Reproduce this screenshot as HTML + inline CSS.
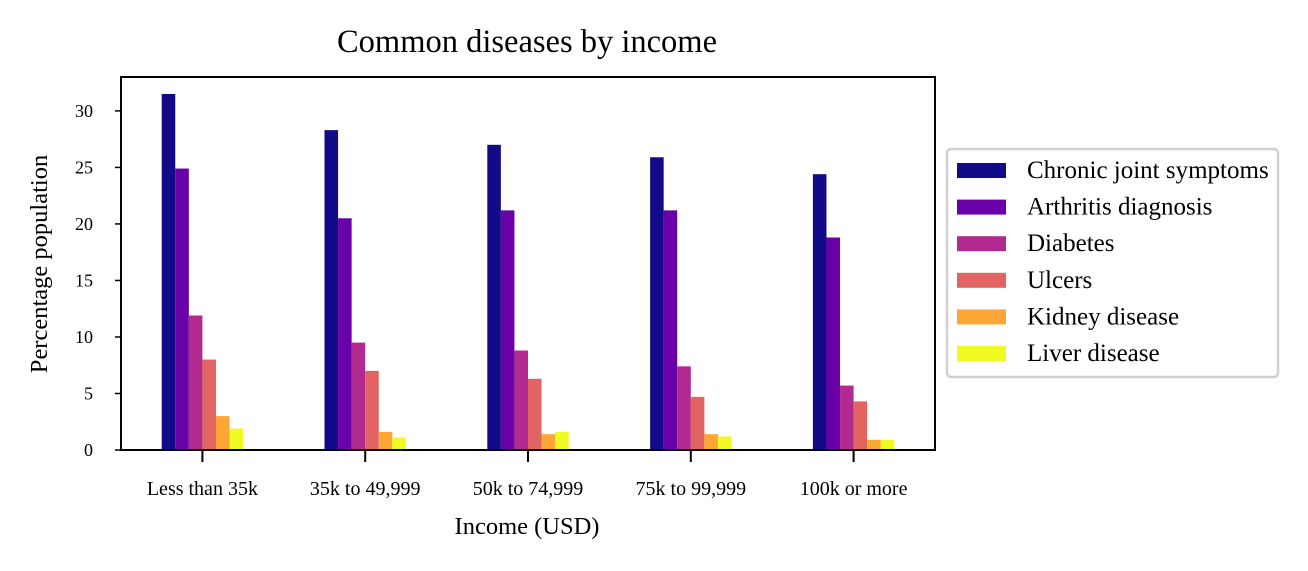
<!DOCTYPE html>
<html><head><meta charset="utf-8"><style>
body{margin:0;background:#fff;}
svg{display:block;font-family:"Liberation Serif",serif;}
</style></head><body>
<svg id="chart" width="1308" height="571">
<text x="527" y="52" text-anchor="middle" font-size="32.5">Common diseases by income</text>
<text x="527" y="534" text-anchor="middle" font-size="24.5">Income (USD)</text>
<text transform="translate(47,264) rotate(-90)" text-anchor="middle" font-size="24.5">Percentage population</text>
<g id="bars"></g><g id="axes"></g><g id="legend"></g>
</svg>
<script>
const categories=["Less than 35k","35k to 49,999","50k to 74,999","75k to 99,999","100k or more"];
const seriesNames=["Chronic joint symptoms","Arthritis diagnosis","Diabetes","Ulcers","Kidney disease","Liver disease"];
const chronic=[31.5,28.3,27.0,25.9,24.4];
const arthritis=[24.9,20.5,21.2,21.2,18.8];
const diabetes=[11.9,9.5,8.8,7.4,5.7];
const ulcers=[8.0,7.0,6.3,4.7,4.3];
const kidney=[3.0,1.6,1.4,1.4,0.9];
const liver=[1.9,1.1,1.6,1.2,0.9];
const yTicks=[0,5,10,15,20,25,30];
const series=[chronic,arthritis,diabetes,ulcers,kidney,liver];
const colors=["#130a87","#6a00a8","#b12a90","#e16462","#fca636","#f0f921"];
const NS="http://www.w3.org/2000/svg";
const L=121,R=935,T=77,B=450;
const yMax=33.0;
const y=v=>B-v/yMax*(B-T);
const step=(R-L)/categories.length;
const xc=i=>L+step*(i+0.5);
const bw=step*0.5/6;
function mk(tag,attrs,parent){const e=document.createElementNS(NS,tag);for(const k in attrs)e.setAttribute(k,attrs[k]);parent.appendChild(e);return e;}
const gb=document.getElementById('bars'),ga=document.getElementById('axes'),gl=document.getElementById('legend');
series.forEach((s,si)=>{s.forEach((v,i)=>{
 const r=mk('rect',{x:xc(i)-3*bw+si*bw,y:y(v),width:bw,height:B-y(v),fill:colors[si]},gb);
 
 
});});
const fr=mk('rect',{x:L,y:T,width:R-L,height:B-T,fill:'none',stroke:'#000','stroke-width':2},ga);


yTicks.forEach(t=>{
 mk('line',{x1:L-6,x2:L,y1:y(t),y2:y(t),stroke:'#000','stroke-width':1.5},ga);
 const tx=mk('text',{x:L-28,y:y(t)+6,'text-anchor':'end','font-size':18},ga);
 tx.textContent=t;
 
 
});
categories.forEach((c,i)=>{
 mk('line',{x1:xc(i),x2:xc(i),y1:B,y2:B+12,stroke:'#000','stroke-width':2},ga);
 const tx=mk('text',{x:xc(i),y:B+45,'text-anchor':'middle','font-size':20},ga);
 tx.textContent=c;
 
 
});
const lb=mk('rect',{x:947,y:149,width:331,height:228,rx:4,fill:'#fff',stroke:'#d0d0d0','stroke-width':2.5},gl);


seriesNames.forEach((n,si)=>{
 const yy=170+si*36.6;
 const sw=mk('rect',{x:957,y:yy-7,width:49,height:15,fill:colors[si]},gl);
 
 
 const tx=mk('text',{x:1027,y:yy+8,'font-size':25},gl);
 tx.textContent=n;
 
 
});
</script>
</body></html>
